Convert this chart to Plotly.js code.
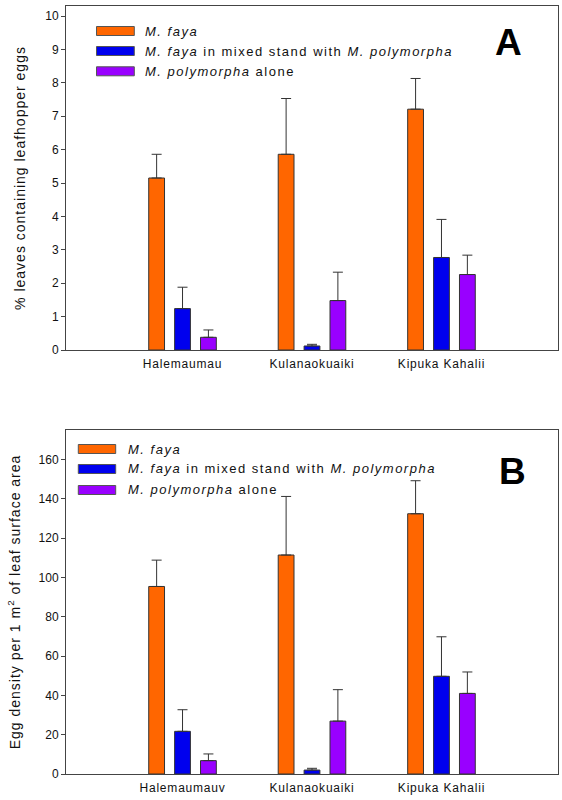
<!DOCTYPE html>
<html>
<head>
<meta charset="utf-8">
<script src="https://cdn.plot.ly/plotly-3.0.1.min.js"></script>
<style>
  html, body { margin: 0; padding: 0; background: #fff; }
  #chart { width: 562px; height: 800px; }
  .annotation-text { letter-spacing: 1.5px; }
  .ytitle, .y2title { letter-spacing: 1px; }
  g.xtick text, g.x2tick text { letter-spacing: 0.8px; }
</style>
</head>
<body>
<div id="chart"></div>
<script>
// ---- data ----
const sitesA = ["Halemaumau", "Kulanaokuaiki", "Kipuka Kahalii"];
const sitesB = ["Halemaumauv", "Kulanaokuaiki", "Kipuka Kahalii"];
const seriesNames = [
  "<i>M. faya</i>",
  "<i>M. faya</i> in mixed stand with <i>M. polymorpha</i>",
  "<i>M. polymorpha</i> alone"
];
const seriesColors = ["#FF6600", "#0000EE", "#9900FF"];

// Panel A: % leaves containing leafhopper eggs (mean, upper error)
const fayaA = [5.15, 5.86, 7.21];
const fayaA_err = [0.71, 1.67, 0.92];
const mixedA = [1.24, 0.12, 2.77];
const mixedA_err = [0.64, 0.05, 1.14];
const polyA = [0.38, 1.48, 2.26];
const polyA_err = [0.22, 0.85, 0.58];

// Panel B: egg density per 1 m2 of leaf surface area
const fayaB = [95.4, 111.4, 132.4];
const fayaB_err = [13.4, 29.8, 16.8];
const mixedB = [21.7, 2.0, 49.7];
const mixedB_err = [11.0, 0.9, 20.1];
const polyB = [6.8, 26.9, 41.0];
const polyB_err = [3.4, 16.0, 10.9];

const yTitleA = "% leaves containing leafhopper eggs";
const yTitleB = "Egg density per 1 m<sup>2</sup> of leaf surface area";
const panelLabels = ["A", "B"];

// ---- layout geometry ----
const FONT = "Liberation Sans, Arial, Helvetica, sans-serif";
const W = 562, H = 800;
const M = { l: 66, r: 4, t: 6, b: 26 };
const plotW = W - M.l - M.r, plotH = H - M.t - M.b;
const px = x => (x - M.l) / plotW;
const py = y => (H - M.b - y) / plotH;

function barTrace(x, y, err, i, xa, ya) {
  const zeros = y.map(() => 0);
  return {
    type: "bar", x: x, y: y, xaxis: xa, yaxis: ya,
    name: seriesNames[i], showlegend: false,
    marker: { color: seriesColors[i], line: { color: "#333", width: 1 } },
    error_y: { type: "data", symmetric: false, array: err, arrayminus: zeros,
               color: "#333", thickness: 1, width: 5 }
  };
}

const data = [
  barTrace(sitesA, fayaA, fayaA_err, 0, "x", "y"),
  barTrace(sitesA, mixedA, mixedA_err, 1, "x", "y"),
  barTrace(sitesA, polyA, polyA_err, 2, "x", "y"),
  barTrace(sitesB, fayaB, fayaB_err, 0, "x2", "y2"),
  barTrace(sitesB, mixedB, mixedB_err, 1, "x2", "y2"),
  barTrace(sitesB, polyB, polyB_err, 2, "x2", "y2")
];

const xCommon = {
  range: [-0.9, 2.9], showline: true, mirror: true, linecolor: "#444", linewidth: 1,
  ticks: "", showgrid: false, zeroline: false, fixedrange: true,
  tickfont: { family: FONT, size: 12, color: "#111" }, ticklabelstandoff: 3
};
const yCommon = {
  showline: true, mirror: true, linecolor: "#444", linewidth: 1,
  ticks: "outside", ticklen: 4, tickcolor: "#444", tickwidth: 1,
  showgrid: false, zeroline: false, fixedrange: true,
  tickfont: { family: FONT, size: 12, color: "#111" }
};

// legend rows (pixel anchors)
const legA = { sx0: 96.5, sx1: 134.3, tx: 143.3, rows: [31, 51, 71.3] };
const legB = { sx0: 78.3, sx1: 115.7, tx: 125.7, rows: [449, 469, 490] };
const shapes = [], annotations = [];
[legA, legB].forEach(L => {
  L.rows.forEach((ry, i) => {
    shapes.push({ type: "rect", xref: "paper", yref: "paper",
      x0: px(L.sx0), x1: px(L.sx1), y0: py(ry + 4.5), y1: py(ry - 4.5),
      fillcolor: seriesColors[i], line: { color: "#555", width: 1 } });
    annotations.push({ xref: "paper", yref: "paper", x: px(L.tx), y: py(ry),
      xanchor: "left", yanchor: "middle", showarrow: false, text: seriesNames[i],
      font: { family: FONT, size: 13, color: "#111" } });
  });
});
annotations.push({ xref: "paper", yref: "paper", x: px(508.5), y: py(42.5),
  xanchor: "center", yanchor: "middle", showarrow: false, text: "<b>" + panelLabels[0] + "</b>",
  font: { family: FONT, size: 37, color: "#000" } });
annotations.push({ xref: "paper", yref: "paper", x: px(513), y: py(472),
  xanchor: "center", yanchor: "middle", showarrow: false, text: "<b>" + panelLabels[1] + "</b>",
  font: { family: FONT, size: 37, color: "#000" } });

const layout = {
  width: W, height: H, margin: M,
  paper_bgcolor: "#fff", plot_bgcolor: "#fff",
  barmode: "group", bargap: 0.4, bargroupgap: 0.39,
  showlegend: false,
  font: { family: FONT, color: "#111" },
  xaxis: Object.assign({}, xCommon, { anchor: "y" }),
  xaxis2: Object.assign({}, xCommon, { anchor: "y2" }),
  yaxis: Object.assign({}, yCommon, { anchor: "x", domain: [py(350), 1], range: [0, 10.3], dtick: 1,
    title: { text: yTitleA, font: { family: FONT, size: 14, color: "#111" }, standoff: 16 } }),
  yaxis2: Object.assign({}, yCommon, { anchor: "x2", domain: [0, py(430)], range: [0, 175], dtick: 20,
    title: { text: yTitleB, font: { family: FONT, size: 14, color: "#111" }, standoff: 14 } }),
  shapes: shapes, annotations: annotations
};

Plotly.newPlot("chart", data, layout, { staticPlot: true, displayModeBar: false });
</script>
</body>
</html>
